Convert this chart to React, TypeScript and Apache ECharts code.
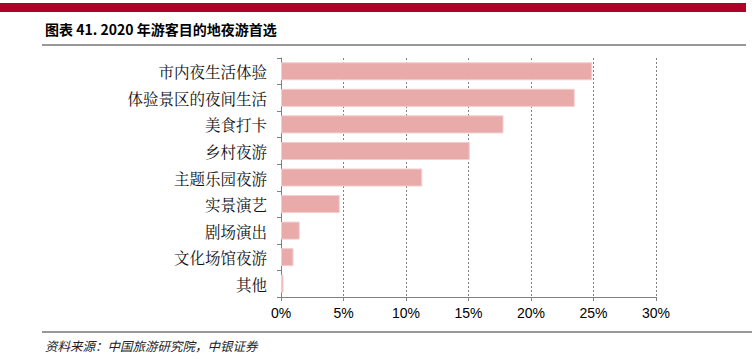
import React, { useEffect, useRef } from "react";
import * as echarts from "echarts";

const categories = ["市内夜生活体验", "体验景区的夜间生活", "美食打卡", "乡村夜游", "主题乐园夜游", "实景演艺", "剧场演出", "文化场馆夜游", "其他"];
const values = [24.9, 23.5, 17.8, 15.1, 11.3, 4.7, 1.5, 1.0, 0.2];
const xTicks = [0, 5, 10, 15, 20, 25, 30];

export default function App() {
  const ref = useRef<HTMLDivElement>(null);
  useEffect(() => {
    const chart = echarts.init(ref.current!, null, { renderer: "svg" });
    chart.setOption({
      animation: false,
      grid: { left: 281, right: 96, top: 58, bottom: 67 },
      xAxis: {
        type: "value",
        min: xTicks[0],
        max: xTicks[xTicks.length - 1],
        interval: 5,
        axisLine: { show: true, lineStyle: { color: "#808080" } },
        axisTick: { show: true, length: 4, lineStyle: { color: "#808080" } },
        axisLabel: { formatter: "{value}%", color: "#000", fontFamily: "Liberation Sans", fontSize: 14, margin: 9 },
        splitLine: { show: true, lineStyle: { color: "#808080", type: [2, 2], width: 1 } },
      },
      yAxis: {
        type: "category",
        inverse: true,
        data: categories,
        axisLine: { show: true, lineStyle: { color: "#808080" } },
        axisTick: { show: true, length: 4, lineStyle: { color: "#808080" } },
        axisLabel: { color: "#111", fontFamily: "Noto Serif CJK SC, Noto Sans CJK SC", fontSize: 15.5, margin: 14 },
      },
      series: [
        {
          type: "bar",
          data: values,
          barCategoryGap: "32%",
          itemStyle: { color: "#E9AAAA", borderColor: "#F3CECE", borderWidth: 1 },
        },
      ],
      graphic: [
        { type: "rect", shape: { x: 0, y: 3, width: 746, height: 9 }, style: { fill: "#AF0028" } },
        {
          type: "text",
          x: 45,
          y: 29,
          style: { text: "图表 41. 2020 年游客目的地夜游首选", font: "bold 14px 'Noto Sans CJK SC'", fill: "#000", textVerticalAlign: "middle" },
        },
        { type: "line", shape: { x1: 42, y1: 45, x2: 746, y2: 45 }, style: { stroke: "#333", lineWidth: 1 } },
        { type: "line", shape: { x1: 42, y1: 332, x2: 752, y2: 332 }, style: { stroke: "#333", lineWidth: 1 } },
        {
          type: "text",
          x: 45,
          y: 345,
          style: { text: "资料来源：中国旅游研究院，中银证券", font: "italic 12.5px 'Noto Sans CJK SC'", fill: "#222", textVerticalAlign: "middle" },
        },
      ],
    });
    return () => chart.dispose();
  }, []);
  return <div ref={ref} style={{ width: 752, height: 364, position: "absolute", left: 0, top: 0 }} />;
}
